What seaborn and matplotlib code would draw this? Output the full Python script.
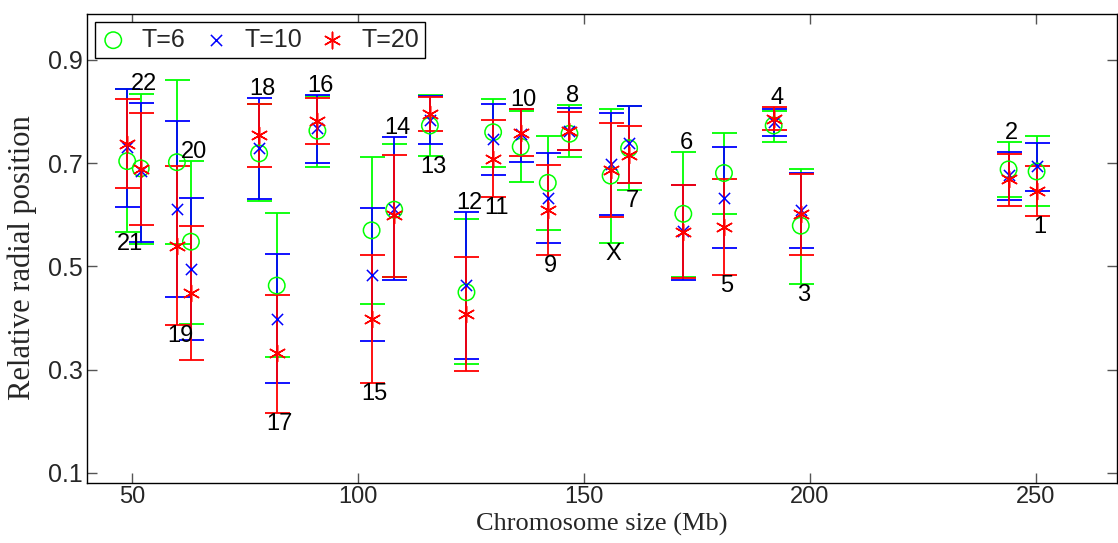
import numpy as np
import pandas as pd
import matplotlib
matplotlib.use("Agg")
import matplotlib.pyplot as plt
import seaborn as sns

# ---------------- data ----------------
chrom = ['21', '22', '19', '20', '18', '17', '16', '15', '14', '13', '12', '11',
         '10', '9', '8', 'X', '7', '6', '5', '4', '3', '2', '1']
size_mb = [48.9, 51.9, 59.9, 63.0, 78.1, 82.0, 91.0, 103.0, 108.0, 115.9, 124.0, 129.9,
           136.0, 142.0, 146.8, 155.9, 160.0, 172.0, 181.0, 192.0, 198.0, 244.0, 250.2]

t6_mean = [0.704, 0.690, 0.702, 0.548, 0.719, 0.463, 0.763, 0.570, 0.610, 0.773, 0.450, 0.760,
           0.732, 0.662, 0.757, 0.676, 0.729, 0.602, 0.681, 0.773, 0.579, 0.688, 0.684]
t6_low = [0.566, 0.543, 0.543, 0.389, 0.627, 0.324, 0.692, 0.428, 0.479, 0.714, 0.311, 0.692,
          0.663, 0.571, 0.712, 0.546, 0.648, 0.479, 0.601, 0.742, 0.466, 0.634, 0.617]
t6_high = [0.843, 0.835, 0.861, 0.704, 0.814, 0.603, 0.831, 0.712, 0.737, 0.832, 0.592, 0.824,
           0.801, 0.753, 0.812, 0.805, 0.810, 0.721, 0.759, 0.802, 0.689, 0.741, 0.752]

t10_mean = [0.732, 0.684, 0.612, 0.495, 0.729, 0.399, 0.768, 0.484, 0.612, 0.784, 0.464, 0.746,
            0.757, 0.632, 0.763, 0.699, 0.739, 0.568, 0.633, 0.779, 0.610, 0.677, 0.695]
t10_low = [0.616, 0.548, 0.441, 0.357, 0.630, 0.274, 0.700, 0.356, 0.473, 0.737, 0.321, 0.677,
           0.703, 0.545, 0.726, 0.600, 0.661, 0.473, 0.535, 0.753, 0.535, 0.629, 0.647]
t10_high = [0.843, 0.816, 0.782, 0.633, 0.826, 0.524, 0.833, 0.613, 0.750, 0.830, 0.605, 0.814,
            0.805, 0.719, 0.806, 0.797, 0.810, 0.657, 0.731, 0.805, 0.681, 0.721, 0.740]

t20_mean = [0.737, 0.689, 0.540, 0.449, 0.755, 0.332, 0.782, 0.398, 0.599, 0.795, 0.408, 0.708,
            0.758, 0.610, 0.763, 0.687, 0.716, 0.566, 0.576, 0.786, 0.602, 0.669, 0.646]
t20_low = [0.652, 0.580, 0.386, 0.318, 0.693, 0.217, 0.737, 0.274, 0.480, 0.763, 0.298, 0.634,
           0.713, 0.522, 0.726, 0.595, 0.661, 0.477, 0.484, 0.764, 0.522, 0.618, 0.597]
t20_high = [0.824, 0.798, 0.695, 0.579, 0.814, 0.445, 0.827, 0.522, 0.715, 0.828, 0.519, 0.784,
            0.805, 0.697, 0.800, 0.777, 0.772, 0.657, 0.669, 0.808, 0.679, 0.718, 0.695]

label_side = ['below', 'above', 'below', 'above', 'above', 'below', 'above', 'below', 'above',
              'below', 'above', 'below', 'above', 'below', 'above', 'below', 'below', 'above',
              'below', 'above', 'below', 'above', 'below']

series_names = ['T=6', 'T=10', 'T=20']
x_ticks = [50, 100, 150, 200, 250]
y_ticks = [0.1, 0.3, 0.5, 0.7, 0.9]

# ---------------- styling ----------------
sns.set_style("ticks")
plt.rcParams['font.family'] = ['Liberation Sans', 'DejaVu Sans']
plt.rcParams['xtick.direction'] = 'in'
plt.rcParams['ytick.direction'] = 'in'

colors = {'T=6': '#00ff00', 'T=10': '#0000ff', 'T=20': '#ff0000'}
serif = ['Liberation Serif', 'DejaVu Serif']

fig = plt.figure(figsize=(11.18, 5.43), dpi=100)
W, H = 1118, 543
ax = fig.add_axes([87 / W, 1 - 483 / H, (1117 - 87) / W, (483 - 14) / H])

frames = []
for name, m, lo, hi in [('T=6', t6_mean, t6_low, t6_high),
                        ('T=10', t10_mean, t10_low, t10_high),
                        ('T=20', t20_mean, t20_low, t20_high)]:
    frames.append(pd.DataFrame({'chrom': chrom, 'size': size_mb, 'mean': m,
                                'low': lo, 'high': hi, 'T': name}))
df = pd.concat(frames, ignore_index=True)

# error bars
for name in series_names:
    d = df[df['T'] == name]
    yerr = np.vstack([d['mean'] - d['low'], d['high'] - d['mean']])
    ax.errorbar(d['size'], d['mean'], yerr=yerr, fmt='none', ecolor=colors[name],
                elinewidth=1.3, capsize=9, capthick=1.3, zorder=2)

# markers
marker_kw = {
    'T=6': dict(marker='o', s=140, facecolor='none', edgecolor=colors['T=6'], linewidth=1.1),
    'T=10': dict(marker='x', s=65, color=colors['T=10'], linewidth=1.1),
    'T=20': dict(marker=(6, 2, 0), s=140, color=colors['T=20'], linewidth=1.1),
}
for name in series_names:
    d = df[df['T'] == name]
    sns.scatterplot(data=d, x='size', y='mean', ax=ax, label=name, zorder=3,
                    **marker_kw[name])

# chromosome labels
for i, c in enumerate(chrom):
    d = df[df['chrom'] == c]
    if label_side[i] == 'above':
        yv, dy = d['high'].max(), 6.5
    else:
        yv, dy = d['low'].min(), -8.0
    ax.annotate(c, (size_mb[i], yv), xytext=(2.2, dy), textcoords='offset points',
                ha='center', va='center', fontsize=17, color='black')

ax.set_xlim(40, 268)
ax.set_ylim(0.0806, 0.989)
ax.set_xticks(x_ticks)
ax.set_yticks(y_ticks)
ax.set_yticklabels([f'{v:.1f}' for v in y_ticks])
ax.tick_params(axis='both', which='both', direction='in', length=7, width=1,
               color='#555555', top=True, right=True)
ax.tick_params(axis='y', pad=3, labelsize=18)
ax.tick_params(axis='x', pad=2, labelsize=17)
for sp in ax.spines.values():
    sp.set_visible(True)
    sp.set_color('black')
    sp.set_linewidth(1.0)

ax.set_xlabel('Chromosome size (Mb)', fontsize=19, family=serif, va='top')
ax.xaxis.set_label_coords(0.5, -(513 - 483) / (483 - 14))
ax.set_ylabel('Relative radial position', fontsize=22, family=serif)
ax.yaxis.set_label_coords(-(87 - 37) / (1117 - 87), 0.48)

leg = ax.legend(loc='upper left', ncol=3, fontsize=18, frameon=True, fancybox=False,
                edgecolor='black', borderaxespad=0.3, handletextpad=0.65,
                columnspacing=0.7, borderpad=0.25, handlelength=1.0)
leg.get_frame().set_linewidth(1.0)
leg.get_frame().set_alpha(1)

fig.savefig('out.png', dpi=100)
